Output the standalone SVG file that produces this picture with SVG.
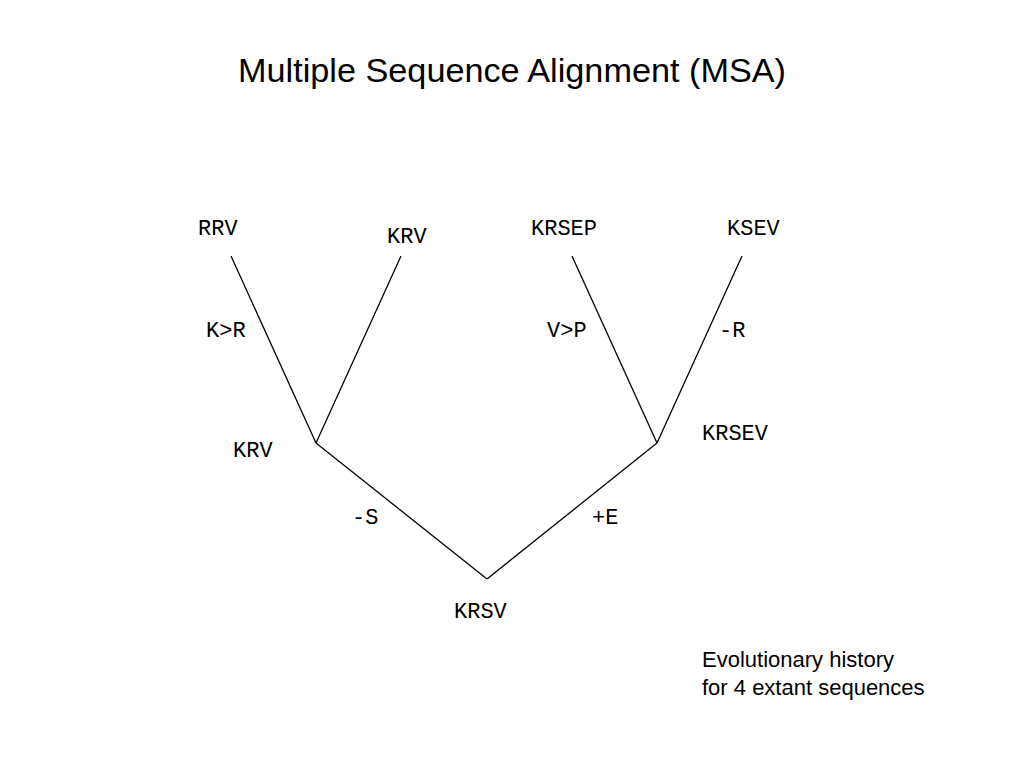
<svg xmlns="http://www.w3.org/2000/svg" width="1024" height="768" viewBox="0 0 1024 768">
<style>
.m{font-family:"Liberation Mono","Courier New","DejaVu Sans Mono",monospace;font-size:22px;fill:#000}
.s{font-family:"Liberation Sans",Arial,sans-serif;fill:#000}
line{stroke:#000;stroke-width:1.3}
</style>
<rect width="1024" height="768" fill="#fff"/>
<text class="s" x="512" y="82" font-size="34" text-anchor="middle" textLength="548" lengthAdjust="spacingAndGlyphs">Multiple Sequence Alignment (MSA)</text>
<g id="connectors">
<line x1="231" y1="256" x2="316" y2="443"/>
<line x1="401" y1="256" x2="316" y2="443"/>
<line x1="572" y1="256" x2="657" y2="443"/>
<line x1="742" y1="256" x2="657" y2="443"/>
<line x1="316" y1="443" x2="487" y2="579"/>
<line x1="657" y1="443" x2="487" y2="579"/>
</g>
<g id="n1"><text class="m" x="198" y="235" font-family="Liberation Mono, monospace">RRV</text></g>
<g id="n2"><text class="m" x="387" y="243">KRV</text></g>
<g id="n3"><text class="m" x="531" y="235">KRSEP</text></g>
<g id="n4"><text class="m" x="727" y="235">KSEV</text></g>
<g id="n5"><text class="m" x="233" y="457">KRV</text></g>
<g id="n6"><text class="m" x="702" y="440">KRSEV</text></g>
<g id="n7"><text class="m" x="454" y="618">KRSV</text></g>
<g id="labels">
<text class="m" x="206" y="337">K&gt;R</text>
<text class="m" x="547" y="337">V&gt;P</text>
<text class="m" x="719" y="337">-R</text>
<text class="m" x="352" y="524">-S</text>
<text class="m" x="592" y="524">+E</text>
</g>
<text class="s" x="702" y="667" font-size="22">Evolutionary history</text>
<text class="s" x="702" y="695" font-size="22">for 4 extant sequences</text>
</svg>
